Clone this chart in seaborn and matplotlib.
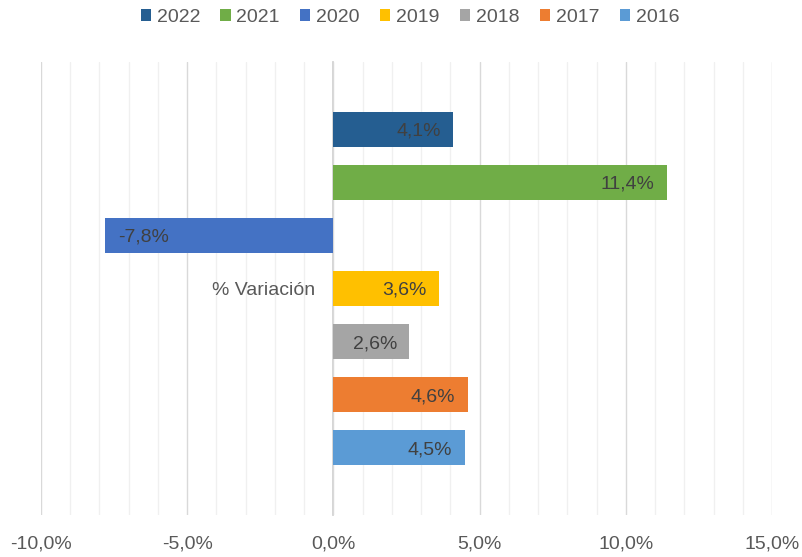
import matplotlib
matplotlib.use("Agg")
import matplotlib.pyplot as plt
import seaborn as sns
import pandas as pd
from matplotlib.ticker import FuncFormatter, MultipleLocator, FixedLocator

# datos
anios = ["2022", "2021", "2020", "2019", "2018", "2017", "2016"]
variacion = [4.1, 11.4, -7.8, 3.6, 2.6, 4.6, 4.5]
categoria = "% Variación"
colores = ["#255E91", "#70AD47", "#4472C4", "#FFC000", "#A5A5A5", "#ED7D31", "#5B9BD5"]
x_ticks = [-10, -5, 0, 5, 10, 15]

df = pd.DataFrame({"categoria": [categoria] * len(anios), "anio": anios, "valor": variacion})


def fmt_pct(v, pos=None):
    return f"{v:.1f}%".replace(".", ",")


sns.set_theme(style="white")
plt.rcParams["font.family"] = ["Liberation Sans", "DejaVu Sans"]

fig = plt.figure(figsize=(8.02, 5.57), dpi=100)
ax = fig.add_axes([0.0511, 0.0754, 0.9115, 0.8133])

sns.barplot(data=df, x="valor", y="categoria", hue="anio", hue_order=anios,
            palette=colores, orient="h", width=0.82, gap=0.333, saturation=1,
            errorbar=None, linewidth=0, ax=ax)

ax.set_xlim(x_ticks[0], x_ticks[-1])
ax.set_ylim(0.5, -0.5)
ax.set_xticks(x_ticks)
ax.xaxis.set_minor_locator(MultipleLocator(1))
ax.xaxis.set_major_formatter(FuncFormatter(fmt_pct))
ax.grid(axis="x", which="major", color="#D9D9D9", linewidth=1)
ax.grid(axis="x", which="minor", color="#F0F0F0", linewidth=1)
ax.set_axisbelow(True)
ax.set_xlabel("")
ax.set_ylabel("")

for s in ["top", "right", "bottom"]:
    ax.spines[s].set_visible(False)
ax.spines["left"].set_position(("data", 0))
ax.spines["left"].set_color("#D0D0D0")
ax.spines["left"].set_zorder(0.5)

ax.yaxis.set_minor_locator(FixedLocator([-0.5, 0.5]))
ax.tick_params(axis="y", which="major", length=0, pad=13, labelsize=14, labelcolor="#595959")
ax.tick_params(axis="y", which="minor", length=4, color="#D0D0D0", direction="out")
ax.tick_params(axis="x", which="both", length=0, pad=15, labelsize=14, labelcolor="#595959")

# etiquetas dentro de las barras
for cont, v in zip(ax.containers, variacion):
    for bar in cont:
        end = bar.get_x() + bar.get_width()
        yc = bar.get_y() + bar.get_height() / 2
        ax.annotate(fmt_pct(v), (end, yc), xytext=(-9 if v > 0 else 9, 0),
                    textcoords="offset points", ha="right" if v > 0 else "left",
                    va="center_baseline", fontsize=14, color="#404040")

sns.move_legend(ax, "upper center", bbox_to_anchor=(0.511, 0.998), bbox_transform=fig.transFigure,
                ncol=7, frameon=False, title=None, fontsize=14, labelcolor="#595959",
                handlelength=0.52, handleheight=0.52, handletextpad=0.3, columnspacing=1.05,
                borderaxespad=0)

fig.savefig("out.png", dpi=100)
